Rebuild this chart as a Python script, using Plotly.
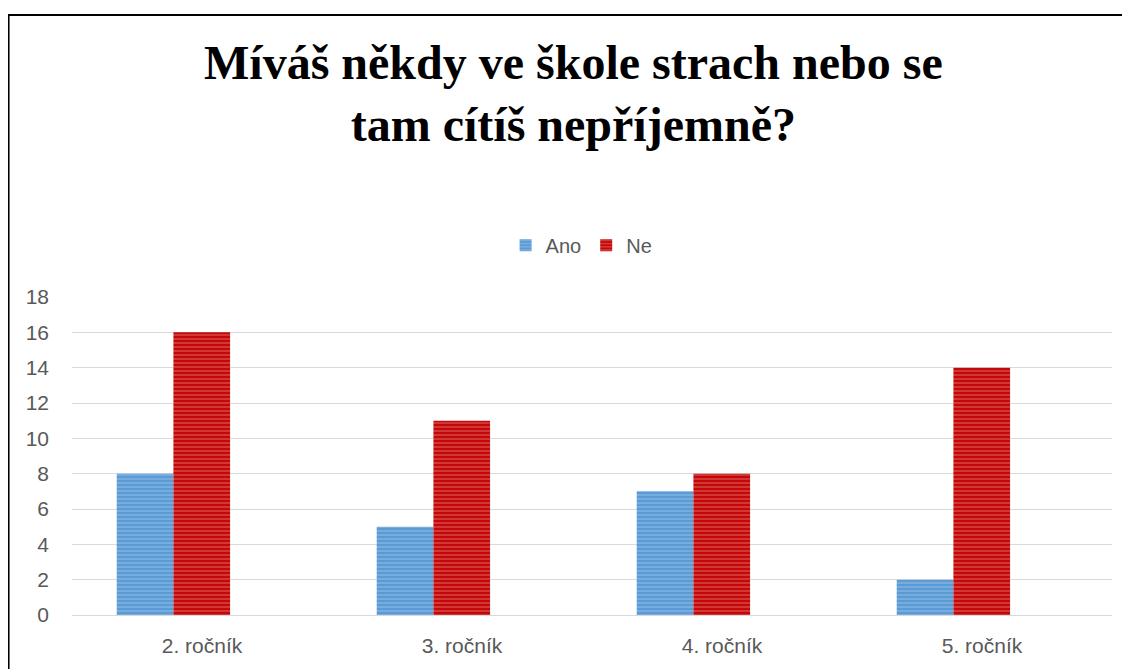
import plotly.graph_objects as go

categories = ["2. ročník", "3. ročník", "4. ročník", "5. ročník"]
ano = [8, 5, 7, 2]
ne = [16, 11, 8, 14]
y_ticks = [0, 2, 4, 6, 8, 10, 12, 14, 16, 18]
title_text = "Míváš někdy ve škole strach nebo se<br>tam cítíš nepříjemně?"

fig = go.Figure()
fig.add_trace(go.Bar(
    x=categories, y=ano, name="Ano", width=0.218, offset=-0.328,
    marker=dict(color="#5B9BD5", line=dict(width=0),
                pattern=dict(shape="-", fgcolor="#A8CBEC", bgcolor="#5B9BD5",
                             size=4, solidity=0.35)),
))
fig.add_trace(go.Bar(
    x=categories, y=ne, name="Ne", width=0.218, offset=-0.11,
    marker=dict(color="#C00000", line=dict(width=0),
                pattern=dict(shape="-", fgcolor="#EA8F8F", bgcolor="#C40808",
                             size=4, solidity=0.35)),
))

fig.update_layout(
    width=1122, height=661,
    margin=dict(l=64, r=18, t=289, b=54),
    paper_bgcolor="white", plot_bgcolor="white",
    barmode="overlay",
    legend=dict(orientation="h", x=0.49, xanchor="center", y=1.163, yanchor="middle",
                font=dict(family="Liberation Sans", size=20, color="#595959"),
                itemwidth=30, traceorder="normal"),
    font=dict(family="Liberation Sans", size=21, color="#595959"),
    showlegend=True,
)
fig.add_annotation(text=title_text, xref="paper", yref="paper", x=0.482, y=1.6415,
                   xanchor="center", yanchor="middle", showarrow=False,
                   font=dict(family="Liberation Serif", size=48, color="#000000", weight="bold"))
fig.update_yaxes(range=[0, 18], tickvals=y_ticks, showgrid=True, gridcolor="#D9D9D9",
                 gridwidth=1, zeroline=False, showline=False, ticks="",
                 ticklabelstandoff=22, tickfont=dict(size=21, color="#595959"))
fig.update_xaxes(showgrid=False, showline=True, linecolor="#D9D9D9", linewidth=1,
                 ticks="", ticklabelstandoff=12, tickfont=dict(size=21, color="#595959"))

# outer frame (top and left edges visible)
fig.add_shape(type="line", xref="paper", yref="paper",
              x0=-0.0615, x1=1.03, y0=1.8868, y1=1.8868,
              line=dict(color="#000000", width=2))
fig.add_shape(type="line", xref="paper", yref="paper",
              x0=-0.0610, x1=-0.0610, y0=1.8868, y1=-0.2,
              line=dict(color="#000000", width=2))

fig.write_html("out.html")
